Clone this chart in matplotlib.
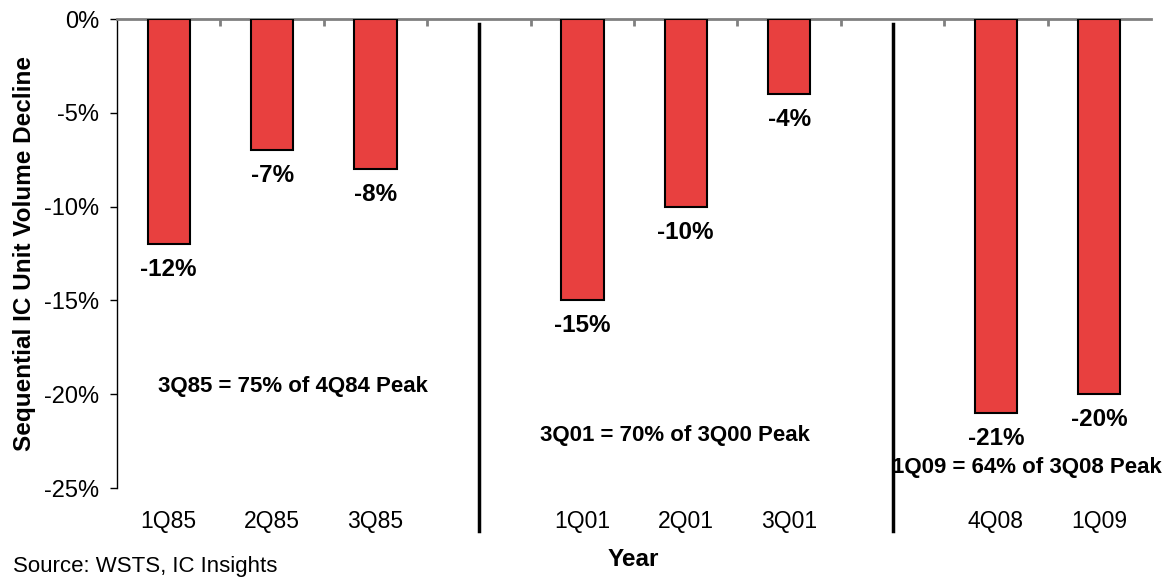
import matplotlib.pyplot as plt
from matplotlib.ticker import FuncFormatter

plt.rcParams['font.family'] = ['Liberation Sans', 'DejaVu Sans']

# Quarterly declines, with empty slots separating the three downturns
quarters = ['1Q85', '2Q85', '3Q85', '', '1Q01', '2Q01', '3Q01', '', '4Q08', '1Q09']
declines = [-12, -7, -8, None, -15, -10, -4, None, -21, -20]
notes = ['3Q85 = 75% of 4Q84 Peak', '3Q01 = 70% of 3Q00 Peak', '1Q09 = 64% of 3Q08 Peak']

fig = plt.figure(figsize=(11.69, 5.77), dpi=100)
ax = fig.add_axes([0.1001, 0.1542, 0.8845, 0.8128])

xs = [i for i, v in enumerate(declines) if v is not None]
vals = [v for v in declines if v is not None]
ax.bar(xs, vals, width=0.41, color='#E8403F', edgecolor='black', linewidth=1.5, zorder=3)

for x, v in zip(xs, vals):
    ax.annotate(f'{v}%', (x, v), xytext=(0, -10), textcoords='offset points',
                ha='center', va='top', fontsize=17.5, fontweight='bold')

ax.set_xlim(-0.5, len(quarters) - 0.5)
ax.set_ylim(-25, 0)
ax.set_yticks(range(-25, 1, 5))
ax.yaxis.set_major_formatter(FuncFormatter(lambda v, p: f'{v:.0f}%'))

# category boundary ticks along the top line
ax.set_xticks([i + 0.5 for i in range(len(quarters) - 1)])
ax.set_xticklabels([])
ax.tick_params(axis='x', direction='in', length=5, color='#808080', width=2, bottom=False, top=True)
ax.tick_params(axis='y', direction='out', length=5, width=1, labelsize=17, pad=8)

for x, q in enumerate(quarters):
    if q:
        ax.annotate(q, (x, -25), xytext=(0, -24), textcoords='offset points',
                    ha='center', va='center', fontsize=16.5, annotation_clip=False)

for s in ['bottom', 'right']:
    ax.spines[s].set_visible(False)
ax.spines['top'].set_color('#808080')
ax.spines['top'].set_linewidth(2)
ax.spines['left'].set_linewidth(1)

# separators between the downturns
for x in [3, 7]:
    ax.plot([x, x], [-0.27, -27.3], color='black', linewidth=2.5, clip_on=False, zorder=4)

ax.text(1.2, -19.6, notes[0], ha='center', va='center', fontsize=16, fontweight='bold')
ax.text(4.9, -22.2, notes[1], ha='center', va='center', fontsize=16, fontweight='bold')
ax.text(8.3, -23.9, notes[2], ha='center', va='center', fontsize=16, fontweight='bold',
        clip_on=False)

ax.set_ylabel('Sequential IC Unit Volume Decline', fontsize=17.5, fontweight='bold', labelpad=6)
fig.text(0.542, 0.031, 'Year', ha='center', va='center', fontsize=17.5, fontweight='bold')
fig.text(0.011, 0.018, 'Source: WSTS, IC Insights', ha='left', va='center', fontsize=16)

fig.savefig('out.png', dpi=100)
